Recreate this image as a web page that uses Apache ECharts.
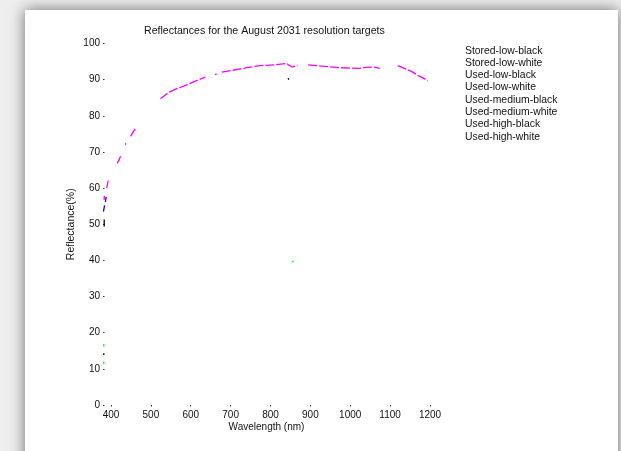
<!DOCTYPE html>
<html>
<head>
<meta charset="utf-8">
<script src="https://cdn.jsdelivr.net/npm/echarts@6/dist/echarts.min.js"></script>
<style>
html,body{margin:0;padding:0;background:#f0f0f0;}
#chart{width:621px;height:451px;}
</style>
</head>
<body>
<div id="chart"></div>
<script>
// ---- data ----
const titleText = 'Reflectances for the August 2031 resolution targets';
const xTicks = [400, 500, 600, 700, 800, 900, 1000, 1100, 1200];
const seriesNames = ['Stored-low-black', 'Stored-low-white', 'Used-low-black', 'Used-low-white',
  'Used-medium-black', 'Used-medium-white', 'Used-high-black', 'Used-high-white'];
const seriesColors = ['#0000ff', '#00ff00', '#ff0000', '#00ffff', '#ff00ff', '#ffff00', '#000000', '#0000ff'];

// visible fragments (null reflectance = gap)
const storedLowBlackWl   = [381, 384, 385, 386, 388];
const storedLowBlackRefl = [53.5, 55.2, null, 56.2, 57.6];

const storedLowWhiteWl   = [382, 382, 382, 382, 382, 600, 854, 857];
const storedLowWhiteRefl = [11.3, 12.0, null, 16.2, 16.9, null, 39.6, 39.8];

const usedLowBlackWl = [];   const usedLowBlackRefl = [];
const usedLowWhiteWl = [];   const usedLowWhiteRefl = [];

const usedMediumBlackWl = [383, 383.3, 386, 389.5, 391, 393, 404, 415.5, 420, 424, 430, 436, 437.5, 443,
  449, 456, 463, 490, 524, 545, 565, 582, 610, 636, 648, 661, 665, 671, 678, 706, 740, 774, 811, 840,
  846, 854.6, 859.6, 868, 881, 894.5, 915.5, 944.5, 973.5, 1000, 1023.5, 1040, 1057, 1074, 1097,
  1119.5, 1136, 1153, 1169.5, 1194.5];
const usedMediumBlackRefl = [56.8, 57.9, null, 60.0, 61.0, 62.1, null, 66.8, 67.8, 68.8, null, 72.0, 72.4, null,
  74.3, 75.6, 76.8, null, 84.7, 86.5, 87.5, 88.2, 89.5, 90.7, null, 91.4, 91.6, null, 92.1, 92.6, 93.3, 93.9, 94.1, 94.5,
  94.0, 93.5, 93.4, 93.9, null, 94.1, 93.9, 93.6, 93.3, 93.2, 93.1, 93.4, 93.5, 93.1, null,
  93.9, 93.1, 92.3, 91.2, 89.75];

const usedMediumWhiteWl = []; const usedMediumWhiteRefl = [];

const usedHighBlackWl   = [383, 383, 383, 382, 382, 600, 844, 846];
const usedHighBlackRefl = [49.4, 51.3, null, 13.8, 14.3, null, 90.4, 90.0];

const usedHighWhiteWl = []; const usedHighWhiteRefl = [];

const allWl = [storedLowBlackWl, storedLowWhiteWl, usedLowBlackWl, usedLowWhiteWl,
  usedMediumBlackWl, usedMediumWhiteWl, usedHighBlackWl, usedHighWhiteWl];
const allRefl = [storedLowBlackRefl, storedLowWhiteRefl, usedLowBlackRefl, usedLowWhiteRefl,
  usedMediumBlackRefl, usedMediumWhiteRefl, usedHighBlackRefl, usedHighWhiteRefl];

// ---- chart ----
const font = 'Liberation Sans, Arial, sans-serif';
const chart = echarts.init(document.getElementById('chart'), null, {renderer: 'canvas'});

const series = seriesNames.map((name, i) => ({
  name: name,
  type: 'line',
  showSymbol: false,
  symbol: 'none',
  connectNulls: false,
  animation: false,
  lineStyle: {color: seriesColors[i], width: 1.3, type: i === 4 ? [9, 2] : 'solid'},
  itemStyle: {color: seriesColors[i]},
  data: allWl[i].map((w, k) => [w, allRefl[i][k]])
}));

chart.setOption({
  backgroundColor: '#eeeeee',
  animation: false,
  graphic: [{
    type: 'rect',
    z: -10,
    silent: true,
    shape: {x: 25, y: 10, width: 593, height: 470},
    style: {fill: '#ffffff', shadowBlur: 14, shadowColor: 'rgba(0,0,0,0.55)'}
  }],
  title: {
    text: titleText,
    left: 144,
    top: 25.5,
    padding: 0,
    textStyle: {fontFamily: font, fontSize: 10.6, fontWeight: 'normal', color: '#111'}
  },
  legend: {
    orient: 'vertical',
    left: 450,
    top: 44.5,
    padding: 0,
    itemGap: 0,
    itemWidth: 10,
    itemHeight: 12.3,
    icon: 'rect',
    itemStyle: {opacity: 0},
    lineStyle: {opacity: 0},
    textStyle: {fontFamily: font, fontSize: 10.4, color: '#111'},
    data: seriesNames
  },
  grid: {left: 103, right: 191, top: 43.5, bottom: 46, containLabel: false},
  xAxis: {
    type: 'value',
    min: 380,
    max: 1200,
    name: 'Wavelength (nm)',
    nameLocation: 'middle',
    nameGap: 17.5,
    nameMoveOverlap: false,
    nameTextStyle: {fontFamily: font, fontSize: 10, color: '#111'},
    axisLine: {show: false},
    splitLine: {show: false},
    axisTick: {show: true, inside: false, length: 1.5, customValues: xTicks, lineStyle: {color: '#333'}},
    axisLabel: {customValues: xTicks, margin: 5, fontFamily: font, fontSize: 10, color: '#111',
      formatter: v => String(v)}
  },
  yAxis: {
    type: 'value',
    min: 0,
    max: 100,
    interval: 10,
    name: 'Reflectance(%)',
    nameLocation: 'middle',
    nameGap: 26,
    nameMoveOverlap: false,
    nameTextStyle: {fontFamily: font, fontSize: 10.5, color: '#111'},
    axisLine: {show: false},
    splitLine: {show: false},
    axisTick: {show: true, inside: true, length: 1.5, lineStyle: {color: '#333'}},
    axisLabel: {margin: 3, fontFamily: font, fontSize: 10, color: '#111'}
  },
  series: series
});
</script>
</body>
</html>
